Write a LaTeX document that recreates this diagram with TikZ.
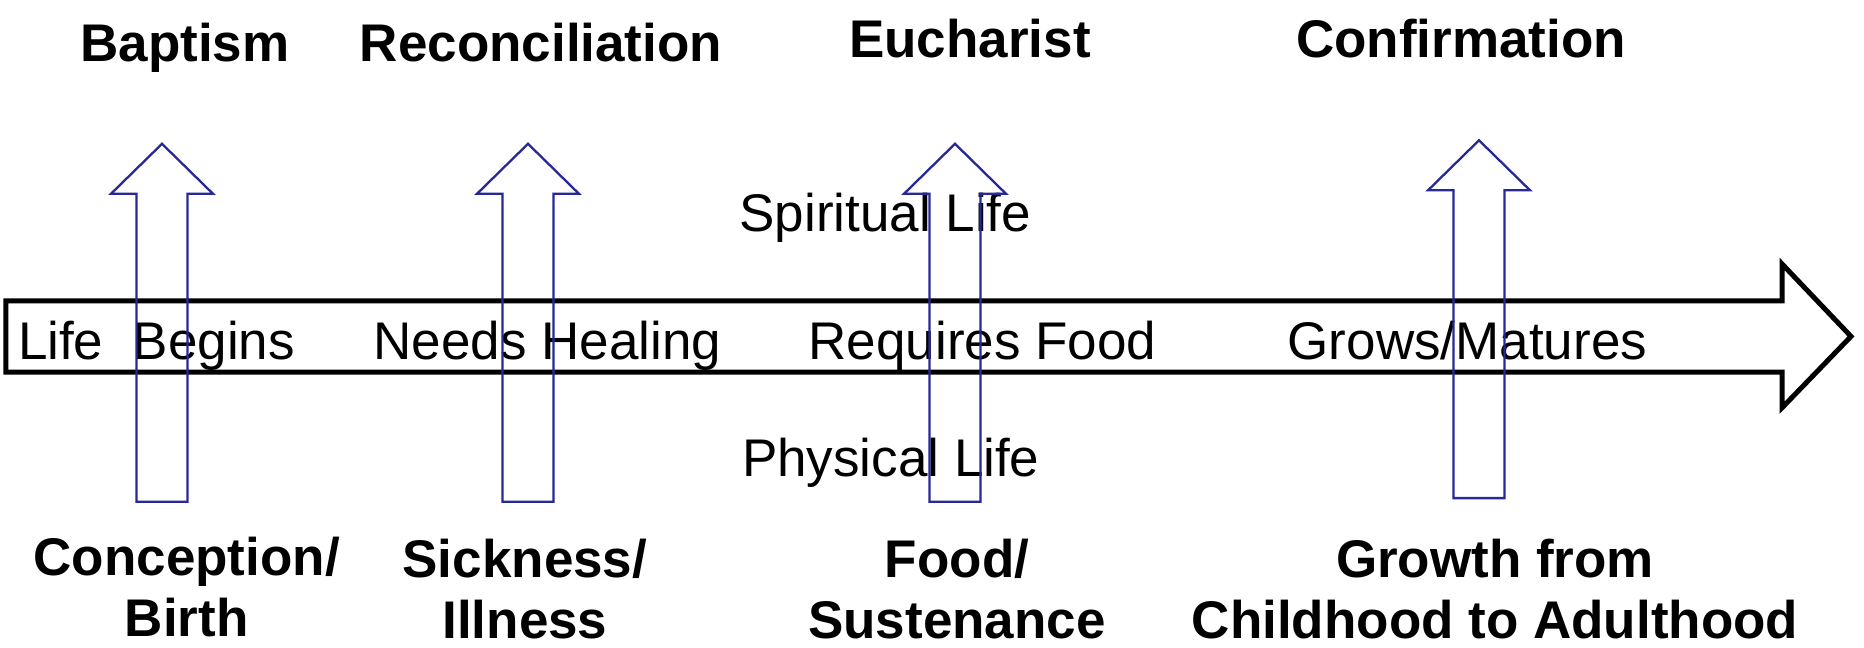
\documentclass[tikz,border=0pt]{standalone}
\usepackage{fontspec}
\setmainfont{Liberation Sans}
\definecolor{arrowblue}{RGB}{40,40,150}
\begin{document}
\begin{tikzpicture}[x=1pt,y=-1pt,
  lbl/.style={font=\fontsize{53}{61}\selectfont, inner sep=0pt},
  ttl/.style={font=\fontsize{53}{61}\selectfont\bfseries, inner sep=0pt, anchor=base},
  bigarrow/.style={draw=black, line width=5pt, line join=miter, fill=white},
  uparrow/.style={draw=arrowblue, line width=2.3pt, line join=miter}]
\useasboundingbox (0,0) rectangle (1864,648);
% main timeline arrow
\draw[bigarrow] (5.9,300.8) -- (1782,300.8) -- (1782,263.9) -- (1851,336.4)
  -- (1782,407.8) -- (1782,372.1) -- (5.9,372.1) -- cycle;
% titles
\node[ttl] (t1) at (185,61.8) {Baptism};
\node[ttl] (t2) at (541,61.8) {Reconciliation};
\node[ttl] (t3) at (970,57) {Eucharist};
\node[ttl] (t4) at (1461,57) {Confirmation};
% middle labels
\node[lbl, anchor=base west] (m1) at (17.8,359) {Life\ \ Begins};
\node[lbl, anchor=base west] (m2) at (373.3,359) {Needs Healing};
\node[lbl, anchor=base west] (m3) at (808.4,359) {Requires Food};
\node[lbl, anchor=base west] (m4) at (1287.5,359) {Grows/Matures};
\node[lbl, anchor=base west] (sp) at (739.4,231.8) {Spiritual Life};
\node[lbl, anchor=base west] (ph) at (741.8,476.7) {Physical Life};
% bottom labels
\node[ttl] (b1a) at (186.6,575.4) {Conception/};
\node[ttl] (b1b) at (186.6,636) {Birth};
\node[ttl] (b2a) at (524.9,577) {Sickness/};
\node[ttl] (b2b) at (524.9,638) {Illness};
\node[ttl] (b3a) at (957,577) {Food/};
\node[ttl] (b3b) at (957,638) {Sustenance};
\node[ttl] (b4a) at (1495,577.8) {Growth from};
\node[ttl] (b4b) at (1495,638) {Childhood to Adulthood};
% blue block arrows
\foreach \cx/\ty/\by in {162/143.8/501.7, 528/143.8/501.7, 955/143.8/501.7, 1479/140.3/498.1}{
  \draw[uparrow] (\cx,\ty) -- (\cx+51,\ty+50) -- (\cx+25.5,\ty+50) -- (\cx+25.5,\by)
    -- (\cx-25.5,\by) -- (\cx-25.5,\ty+50) -- (\cx-51,\ty+50) -- cycle;
}
\end{tikzpicture}
\end{document}
